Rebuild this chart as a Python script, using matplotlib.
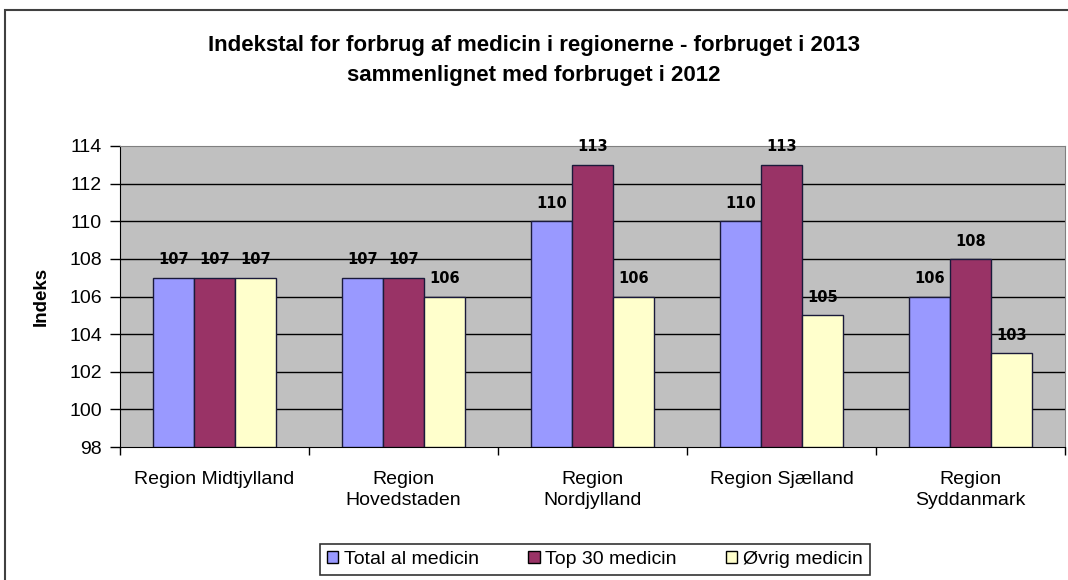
import numpy as np
import matplotlib.pyplot as plt
from matplotlib.patches import Rectangle

regions = ['Region Midtjylland', 'Region\nHovedstaden', 'Region\nNordjylland',
           'Region Sjælland', 'Region\nSyddanmark']
total = [107, 107, 110, 110, 106]
top30 = [107, 107, 113, 113, 108]
oevrig = [107, 106, 106, 105, 103]
series_names = ['Total al medicin', 'Top 30 medicin', 'Øvrig medicin']
colors = ['#9999FF', '#993366', '#FFFFCC']

plt.rcParams['font.family'] = ['Liberation Sans', 'DejaVu Sans']

fig = plt.figure(figsize=(10.68, 5.8), dpi=100)
fig.patch.set_facecolor('white')

# chart frame (Excel style)
fig.patches.append(Rectangle((5 / 1068, -0.1), 1.2, (580 - 10) / 580 + 0.1,
                             transform=fig.transFigure, fill=False,
                             edgecolor='#404040', linewidth=1.5, zorder=0))

ax = fig.add_axes([120 / 1068, (580 - 447) / 580, 945 / 1068, 301 / 580])
ax.set_facecolor('#C0C0C0')

x = np.arange(len(regions))
w = 0.218
for i, (vals, name, c) in enumerate(zip([total, top30, oevrig], series_names, colors)):
    pos = x + (i - 1) * w
    ax.bar(pos, np.array(vals) - 98, bottom=98, width=w, color=c,
           edgecolor='#1a1a3a', linewidth=1, label=name, zorder=3)
    for p, v in zip(pos, vals):
        ax.text(p, v + 0.55, str(v), ha='center', va='bottom', fontsize=10.5,
                fontweight='bold', family='DejaVu Sans', zorder=4)

ax.set_ylim(98, 114)
ax.set_xlim(-0.5, len(regions) - 0.5)
ax.set_yticks(range(98, 115, 2))
ax.tick_params(axis='y', labelsize=14, length=7, direction='out', width=1, pad=6)
for yv in range(100, 114, 2):
    ax.axhline(yv, color='black', linewidth=1, zorder=1)

ax.set_xticks(x)
ax.set_xticklabels(regions, fontsize=14, linespacing=1.35)
ax.set_xticks(np.arange(-0.5, len(regions), 1), minor=True)
ax.tick_params(axis='x', which='major', length=0, pad=17)
ax.tick_params(axis='x', which='minor', length=6, direction='out', width=1)

for s in ['top', 'right']:
    ax.spines[s].set_color('#808080')
for s in ['left', 'bottom']:
    ax.spines[s].set_color('black')

ax.set_ylabel('Indeks', fontsize=13.5, fontweight='bold', labelpad=14)

fig.text(534 / 1068, (580 - 45) / 580,
         'Indekstal for forbrug af medicin i regionerne - forbruget i 2013',
         ha='center', va='center', fontsize=16, fontweight='bold')
fig.text(534 / 1068, (580 - 75) / 580,
         'sammenlignet med forbruget i 2012',
         ha='center', va='center', fontsize=16, fontweight='bold')

leg = fig.legend(loc='upper left', bbox_to_anchor=(320 / 1068, (580 - 544) / 580),
                 ncol=3, fontsize=14, frameon=True, fancybox=False,
                 handlelength=0.6, handleheight=0.6, handletextpad=0.3,
                 columnspacing=2.5, borderpad=0.35, borderaxespad=0)
leg.get_frame().set_edgecolor('black')
leg.get_frame().set_linewidth(1.2)
for h in leg.legend_handles:
    h.set_edgecolor('black')

fig.savefig('out.png', dpi=100)
